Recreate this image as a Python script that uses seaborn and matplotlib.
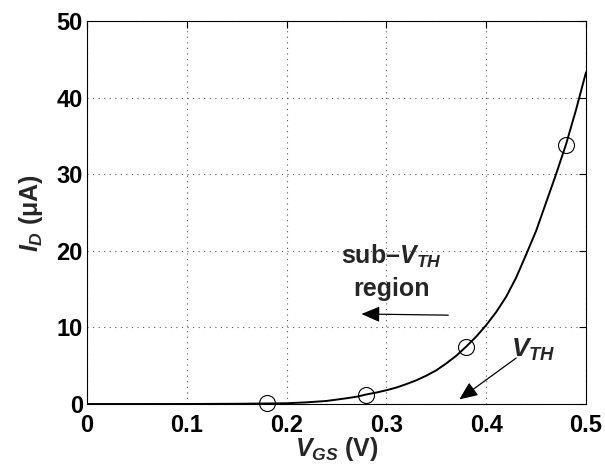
import numpy as np
import pandas as pd
import seaborn as sns
import matplotlib
matplotlib.use("Agg")
import matplotlib.pyplot as plt

# Curve data
vgs_curve = [0.00, 0.05, 0.10, 0.15, 0.18, 0.20, 0.22, 0.24, 0.26, 0.27, 0.28,
             0.29, 0.30, 0.31, 0.32, 0.33, 0.34, 0.35, 0.36, 0.37, 0.38, 0.39,
             0.40, 0.41, 0.42, 0.43, 0.44, 0.45, 0.46, 0.47, 0.48, 0.49, 0.50]
id_curve = [0.0, 0.0, 0.005, 0.03, 0.07, 0.1, 0.22, 0.4, 0.75, 0.95, 1.25,
            1.5, 1.8, 2.15, 2.6, 3.1, 3.7, 4.4, 5.3, 6.3, 7.5, 8.8,
            10.3, 12.0, 14.0, 16.5, 19.5, 22.6, 26.3, 30.0, 33.9, 38.4, 43.3]
# Marked points
vgs_pts = [0.18, 0.28, 0.38, 0.48]
id_pts = [0.15, 1.2, 7.5, 33.8]

x_ticks = [0, 0.1, 0.2, 0.3, 0.4, 0.5]
x_tick_labels = ["0", "0.1", "0.2", "0.3", "0.4", "0.5"]
y_ticks = [0, 10, 20, 30, 40, 50]
y_tick_labels = ["0", "10", "20", "30", "40", "50"]

sns.set_theme(style="white")
plt.rcParams['font.family'] = ['Liberation Sans', 'DejaVu Sans']
plt.rcParams['font.weight'] = 'bold'
plt.rcParams['mathtext.fontset'] = 'custom'
plt.rcParams['mathtext.it'] = 'Liberation Sans:bold:italic'
plt.rcParams['mathtext.rm'] = 'Liberation Sans:bold'
plt.rcParams['mathtext.bf'] = 'Liberation Sans:bold'

fig = plt.figure(figsize=(6.05, 4.66), dpi=100)
ax = fig.add_axes([0.1438, 0.133, 0.9686 - 0.1438, 0.955 - 0.133])

df_curve = pd.DataFrame({"vgs": vgs_curve, "id": id_curve})
df_pts = pd.DataFrame({"vgs": vgs_pts, "id": id_pts})

sns.lineplot(data=df_curve, x="vgs", y="id", ax=ax, color="black", linewidth=1.4)
ax.plot(df_pts["vgs"], df_pts["id"], linestyle="none", marker="o", markersize=11.5,
        markerfacecolor="none", markeredgecolor="black", markeredgewidth=0.8, clip_on=False)

ax.set_xlim(0, 0.5)
ax.set_ylim(0, 50)
ax.set_xticks(x_ticks)
ax.set_xticklabels(x_tick_labels)
ax.set_yticks(y_ticks)
ax.set_yticklabels(y_tick_labels)
ax.tick_params(axis="both", direction="in", length=5, width=0.8, colors="black",
               labelsize=17, top=True, right=True)
ax.tick_params(axis="x", pad=7)
ax.tick_params(axis="y", pad=3)
for lab in ax.get_xticklabels() + ax.get_yticklabels():
    lab.set_fontweight("bold")

ax.grid(True, linestyle=(0, (1, 4)), color="#555555", linewidth=0.8)
for s in ax.spines.values():
    s.set_color("black")
    s.set_linewidth(0.8)

ax.set_xlabel(r"$V_{GS}$" + " (V)", fontsize=18, fontweight="bold", labelpad=-1)
ax.set_ylabel(r"$I_D$" + " (\u03bcA)", fontsize=18, fontweight="bold", labelpad=8)

ax.text(0.305, 18.3, "sub\u2013" + r"$V_{TH}$", fontsize=18, fontweight="bold",
        ha="center", va="baseline")
ax.text(0.305, 14.1, "region", fontsize=18, fontweight="bold",
        ha="center", va="baseline")
arrow_style = dict(arrowstyle="-|>,head_length=0.7,head_width=0.3", color="black",
                   lw=0.9, mutation_scale=16, shrinkA=0, shrinkB=0)
ax.annotate("", xy=(0.275, 11.75), xytext=(0.362, 11.6), arrowprops=arrow_style)
ax.text(0.425, 6.2, r"$V_{TH}$", fontsize=19, fontweight="bold",
        ha="left", va="baseline")
ax.annotate("", xy=(0.373, 0.6), xytext=(0.43, 6.0), arrowprops=arrow_style)

fig.savefig("out.png", dpi=100)
